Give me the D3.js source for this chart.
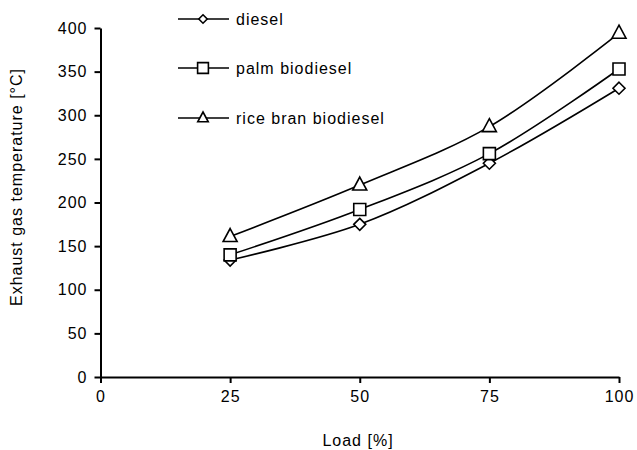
<!DOCTYPE html>
<html>
<head>
<meta charset="utf-8">
<script src="https://cdn.jsdelivr.net/npm/d3@7"></script>
<style>
  html, body { margin: 0; padding: 0; background: #fff; }
  svg { display: block; }
  text { font-family: Arial, "Liberation Sans", sans-serif; fill: #000; letter-spacing: 1px; }
</style>
</head>
<body>
<svg id="chart" width="637" height="450"></svg>
<script>
const loads = [25, 50, 75, 100];
const diesel = [134, 175, 245, 331];
const palm = [140, 192, 256, 353];
const riceBran = [161, 220, 287, 394];
const seriesNames = ["diesel", "palm biodiesel", "rice bran biodiesel"];
const seriesMarkers = ["diamond", "square", "triangle"];
const xTicks = [0, 25, 50, 75, 100];
const yTicks = [0, 50, 100, 150, 200, 250, 300, 350, 400];

const series = [diesel, palm, riceBran].map((vals, i) => ({
  name: seriesNames[i], marker: seriesMarkers[i],
  points: loads.map((l, j) => ({ x: l, y: vals[j] }))
}));

const svg = d3.select("#chart");
const x = d3.scaleLinear().domain([0, 100]).range([100.5, 619]);
const y = d3.scaleLinear().domain([0, 400]).range([377, 28]);

// axes
const xAxis = svg.append("g").attr("transform", `translate(0,${y(0)})`)
  .call(d3.axisBottom(x).tickValues(xTicks).tickSize(6).tickSizeOuter(0).tickPadding(8));
const yAxis = svg.append("g").attr("transform", `translate(${x(0)},0)`)
  .call(d3.axisLeft(y).tickValues(yTicks).tickSize(6).tickSizeOuter(0).tickPadding(7));
[xAxis, yAxis].forEach(g => {
  g.select(".domain").attr("stroke", "#000").attr("stroke-width", 2);
  g.selectAll(".tick line").attr("stroke", "#000").attr("stroke-width", 2);
  g.selectAll(".tick text").attr("font-size", 16).attr("font-family", "Arial, 'Liberation Sans', sans-serif").attr("fill", "#000");
});

// lines
const line = d3.line().x(d => x(d.x)).y(d => y(d.y)).curve(d3.curveCatmullRom.alpha(0.5));
svg.append("g").selectAll("path").data(series).join("path")
  .attr("d", d => line(d.points))
  .attr("fill", "none").attr("stroke", "#000").attr("stroke-width", 1.6);

function markerPath(type) {
  if (type === "diamond") return "M0,-6L6,0L0,6L-6,0Z";
  if (type === "square") return "M-6,-6H6V6H-6Z";
  return "M0,-8L7,5H-7Z";
}

series.forEach(s => {
  svg.append("g").selectAll("path").data(s.points).join("path")
    .attr("transform", d => `translate(${x(d.x)},${y(d.y)})`)
    .attr("d", markerPath(s.marker))
    .attr("fill", "#fff").attr("stroke", "#000").attr("stroke-width", 1.6);
});

// legend
const legendY = [19, 68, 118];
const leg = svg.append("g");
series.forEach((s, i) => {
  const g = leg.append("g").attr("transform", `translate(0,${legendY[i]})`);
  g.append("line").attr("x1", 178).attr("x2", 229).attr("y1", 0).attr("y2", 0)
    .attr("stroke", "#000").attr("stroke-width", 1.6);
  const sc = s.marker === "diamond" ? 0.7 : (s.marker === "square" ? 0.9 : 0.75);
  g.append("path").attr("transform", `translate(203,0) scale(${sc})`)
    .attr("d", markerPath(s.marker)).attr("fill", "#fff").attr("stroke", "#000").attr("stroke-width", 1.6 / sc);
  g.append("text").attr("x", 236).attr("y", 5.5).attr("font-size", 16).text(s.name);
});

// titles
svg.append("text").attr("transform", "translate(22,187) rotate(-90)")
  .attr("text-anchor", "middle").attr("font-size", 16).text("Exhaust gas temperature [°C]");
svg.append("text").attr("x", 358).attr("y", 446)
  .attr("text-anchor", "middle").attr("font-size", 16).text("Load [%]");
</script>
</body>
</html>
